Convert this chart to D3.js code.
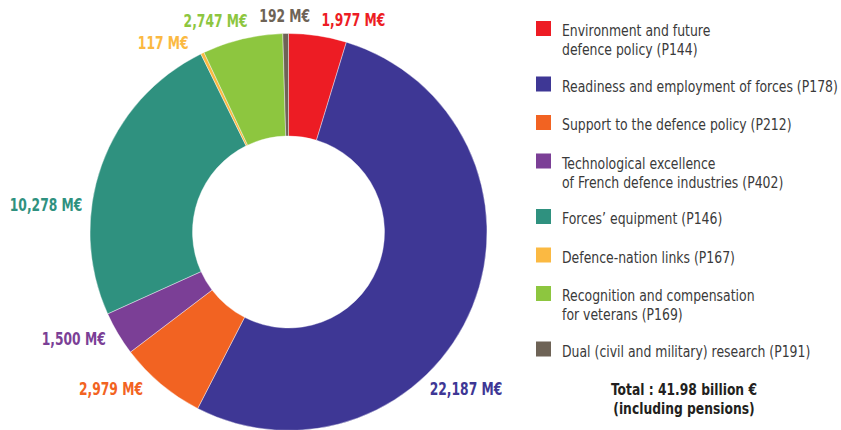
<!DOCTYPE html>
<html>
<head>
<meta charset="utf-8">
<script src="https://cdn.jsdelivr.net/npm/d3@7"></script>
<style>
  body { margin: 0; background: #fff; }
  svg { display: block; }
  .val { font-family: "Liberation Sans Narrow", "DejaVu Sans Condensed", "Roboto", sans-serif; font-weight: bold; font-size: 17.5px; }
  .leg { font-family: "Liberation Sans Narrow", "DejaVu Sans Condensed", "Roboto", sans-serif; font-size: 16px; fill: #3a3a3a; }
  .total { font-family: "Liberation Sans Narrow", "DejaVu Sans Condensed", "Roboto", sans-serif; font-weight: bold; font-size: 16.5px; fill: #231f20; }
</style>
</head>
<body>
<div id="chart"></div>
<script>
const width = 841;
const height = 430;

// budget by programme, in M€ (clockwise from 12 o'clock)
const programmes = ['P144', 'P178', 'P212', 'P402', 'P146', 'P167', 'P169', 'P191'];
const amounts = [1977, 22187, 2979, 1500, 10278, 117, 2747, 192];
const legendLabels = [
    ['Environment and future', 'defence policy (P144)'],
    ['Readiness and employment of forces (P178)'],
    ['Support to the defence policy (P212)'],
    ['Technological excellence', 'of French defence industries (P402)'],
    ['Forces\u2019 equipment (P146)'],
    ['Defence-nation links (P167)'],
    ['Recognition and compensation', 'for veterans (P169)'],
    ['Dual (civil and military) research (P191)']
];
const colors = ['#ed1c24', '#3e3795', '#f26322', '#7b3f96', '#2f917f', '#fbb942', '#8dc63f', '#6e6356'];
const totalLines = ['Total : 41.98 billion \u20ac', '(including pensions)'];

// hand placed value labels: [angle in degrees from top, radius]
const labelPolar = [[17, 222], [131.5, 237], [228.5, 237], [243.5, 240], [276.5, 244], [326.5, 227], [341, 224], [359, 216]];

const fmt = d3.format(',');

const svg = d3.select('#chart').append('svg')
    .attr('width', width)
    .attr('height', height);

// the original uses a condensed face, squeeze text horizontally to match
function squeeze(sel, sample, target) {
    const probe = svg.append('text').attr('class', sel).text(sample);
    const k = target / probe.node().getComputedTextLength();
    probe.remove();
    return k;
}
const kVal = squeeze('val', '1,977 M\u20ac', 64);
const kLeg = squeeze('leg', 'Readiness and employment of forces (P178)', 276);
const kTot = squeeze('total', 'Total : 41.98 billion \u20ac', 146);

const cx = 288.5, cy = 232;
const outerR = 198.5, innerR = 96;

const pie = d3.pie().sort(null).value(d => d);
const arc = d3.arc().innerRadius(innerR).outerRadius(outerR);

const g = svg.append('g').attr('transform', `translate(${cx},${cy})`);

const arcs = pie(amounts);

g.selectAll('path')
    .data(arcs)
    .enter()
    .append('path')
    .attr('d', arc)
    .attr('fill', (d, i) => colors[i])
    .attr('stroke', '#fff')
    .attr('stroke-width', 0.4);

// value labels
g.selectAll('text.val')
    .data(arcs)
    .enter()
    .append('text')
    .attr('class', 'val')
    .attr('text-anchor', 'middle')
    .attr('dy', '0.36em')
    .attr('transform', (d, i) => {
        const p = d3.pointRadial(labelPolar[i][0] * Math.PI / 180, labelPolar[i][1]);
        return `translate(${p[0]},${p[1]}) scale(${kVal},1)`;
    })
    .attr('fill', (d, i) => colors[i])
    .text(d => fmt(d.value) + ' M\u20ac');

// legend
const legend = svg.append('g').attr('transform', 'translate(536,21)');
let y = 0;
legendLabels.forEach((lines, i) => {
    const row = legend.append('g').attr('transform', `translate(0,${y})`);
    row.append('rect')
        .attr('width', 15)
        .attr('height', 15)
        .attr('fill', colors[i]);
    lines.forEach((t, j) => {
        row.append('text')
            .attr('class', 'leg')
            .attr('transform', `translate(26,${15 + j * 19}) scale(${kLeg},1)`)
            .text(t);
    });
    y += 38.5 + (lines.length - 1) * 17;
});

// total
svg.append('g').selectAll('text')
    .data(totalLines)
    .enter()
    .append('text')
    .attr('class', 'total')
    .attr('text-anchor', 'middle')
    .attr('transform', (d, i) => `translate(684,${395 + i * 19}) scale(${kTot},1)`)
    .text(d => d);
</script>
</body>
</html>
